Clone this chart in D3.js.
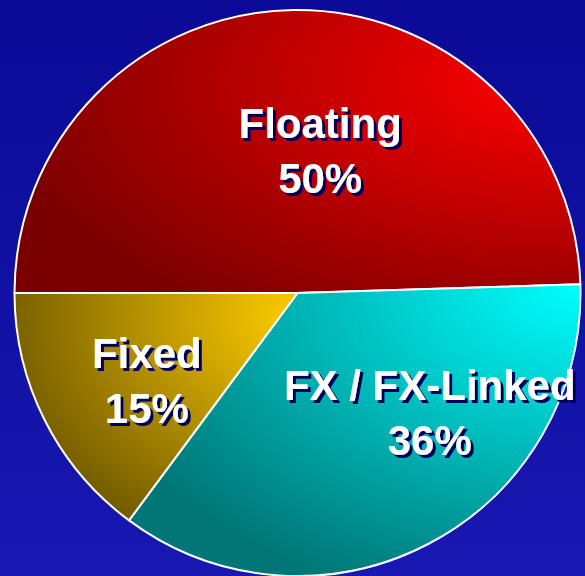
<!DOCTYPE html>
<html lang="en">
<head>
<meta charset="UTF-8">
<script src="https://d3js.org/d3.v7.min.js"></script>
<style>
  html, body { margin: 0; padding: 0; background: #0e0ea4; }
  #plot { position: absolute; width: 585px; height: 576px; }
</style>
</head>
<body>
<div id="plot"></div>
<script>
// chart data
const categories = ["Floating", "FX / FX-Linked", "Fixed"];
const shares = [50, 36, 15];
const pctLabels = ["50%", "36%", "15%"];

// slice shading: [bright, dark]
const sliceColors = [
  ["#ff0000", "#7a0000"],
  ["#00ffff", "#007676"],
  ["#ffcc00", "#6e5800"]
];
// where each label sits: radius, angle (deg, clockwise from top)
const labelPlace = [
  { r: 145, a: 9 },
  { r: 178, a: 132 },
  { r: 174, a: 240 }
];

const width = 585, height = 576;
const cx = 297.5, cy = 293, radius = 283;

const svg = d3.select("#plot").append("svg")
    .attr("width", width)
    .attr("height", height);

const defs = svg.append("defs");

const bg = defs.append("linearGradient")
    .attr("id", "bg").attr("x1", 0).attr("y1", 0).attr("x2", 0).attr("y2", 1);
bg.append("stop").attr("offset", 0).attr("stop-color", "#0a0a96");
bg.append("stop").attr("offset", 1).attr("stop-color", "#1818b2");

// hard drop shadow under the labels
defs.append("filter")
    .attr("id", "shadow")
    .attr("x", "-10%").attr("y", "-20%").attr("width", "130%").attr("height", "150%")
  .append("feDropShadow")
    .attr("dx", 3).attr("dy", 3).attr("stdDeviation", 0)
    .attr("flood-color", "#00005a").attr("flood-opacity", 1);

svg.append("rect").attr("width", width).attr("height", height).attr("fill", "url(#bg)");

// gradient per slice, bright corner at top-right
const grads = [
  { cx: 0.95, cy: 0.25, r: 1.0 },
  { cx: 1.0, cy: 0.0, r: 1.15 },
  { cx: 1.0, cy: 0.1, r: 1.1 }
];
sliceColors.forEach((c, i) => {
  const g = defs.append("radialGradient")
      .attr("id", "slice" + i)
      .attr("cx", grads[i].cx).attr("cy", grads[i].cy).attr("r", grads[i].r)
      .attr("fx", grads[i].cx).attr("fy", grads[i].cy);
  g.append("stop").attr("offset", 0).attr("stop-color", c[0]);
  g.append("stop").attr("offset", 1).attr("stop-color", c[1]);
});

const pie = d3.pie()
    .sort(null)
    .startAngle(-Math.PI / 2)
    .endAngle(3 * Math.PI / 2)
    .value(d => d);
const arcs = pie(shares);
const arc = d3.arc().innerRadius(0).outerRadius(radius);

const g = svg.append("g").attr("transform", `translate(${cx},${cy})`);

g.selectAll("path")
  .data(arcs)
  .join("path")
    .attr("d", arc)
    .attr("fill", (d, i) => `url(#slice${i})`)
    .attr("stroke", "#ffffff")
    .attr("stroke-width", 2)
    .attr("stroke-linejoin", "round");

// labels
const fontSize = 42;
const t = g.selectAll("text.label")
  .data(arcs)
  .join("text")
    .attr("class", "label")
    .attr("transform", (d, i) => {
      const p = labelPlace[i];
      const a = p.a * Math.PI / 180;
      return `translate(${p.r * Math.sin(a)},${-p.r * Math.cos(a)})`;
    })
    .attr("text-anchor", "middle")
    .attr("font-family", "'Liberation Sans', Arial, sans-serif")
    .attr("font-weight", "bold")
    .attr("font-size", fontSize)
    .attr("fill", "#ffffff")
    .attr("filter", "url(#shadow)");
t.append("tspan").attr("x", 0).attr("y", -12).text((d, i) => categories[i]);
t.append("tspan").attr("x", 0).attr("y", 43).text((d, i) => pctLabels[i]);
</script>
</body>
</html>
